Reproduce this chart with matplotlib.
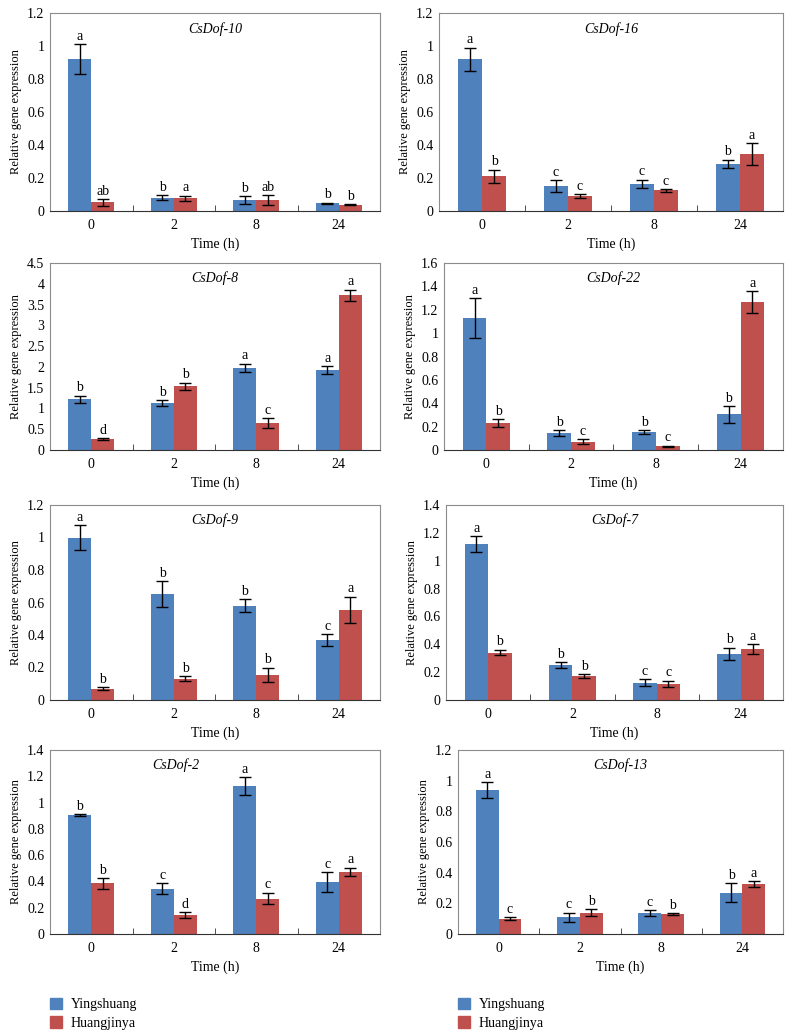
import matplotlib
matplotlib.use('Agg')
import matplotlib.pyplot as plt
from matplotlib.patches import Patch
from matplotlib.ticker import FuncFormatter, FixedLocator
import numpy as np

plt.rcParams['font.family'] = ['Liberation Serif', 'DejaVu Serif']

times = ['0', '2', '8', '24']
blue_c = '#4F81BD'
red_c = '#C0504D'

# panel data: name, ymax, ystep
genes = ['CsDof-10', 'CsDof-16', 'CsDof-8', 'CsDof-22',
         'CsDof-9', 'CsDof-7', 'CsDof-2', 'CsDof-13']
ymax = [1.2, 1.2, 4.5, 1.6, 1.2, 1.4, 1.4, 1.2]
ystep = [0.2, 0.2, 0.5, 0.2, 0.2, 0.2, 0.2, 0.2]

ying_10 = [0.92, 0.08, 0.065, 0.047]
ying_10_err = [0.09, 0.015, 0.025, 0.004]
huang_10 = [0.052, 0.078, 0.065, 0.038]
huang_10_err = [0.02, 0.015, 0.03, 0.004]

ying_16 = [0.92, 0.15, 0.165, 0.285]
ying_16_err = [0.07, 0.035, 0.025, 0.025]
huang_16 = [0.21, 0.09, 0.125, 0.345]
huang_16_err = [0.04, 0.012, 0.008, 0.065]

ying_8 = [1.22, 1.13, 1.98, 1.92]
ying_8_err = [0.09, 0.07, 0.1, 0.09]
huang_8 = [0.27, 1.53, 0.65, 3.72]
huang_8_err = [0.02, 0.09, 0.11, 0.14]

ying_22 = [1.13, 0.145, 0.155, 0.305]
ying_22_err = [0.17, 0.025, 0.015, 0.07]
huang_22 = [0.23, 0.07, 0.03, 1.265]
huang_22_err = [0.035, 0.02, 0.008, 0.095]

ying_9 = [1.0, 0.65, 0.58, 0.37]
ying_9_err = [0.075, 0.08, 0.04, 0.035]
huang_9 = [0.07, 0.13, 0.155, 0.555]
huang_9_err = [0.008, 0.015, 0.045, 0.08]

ying_7 = [1.12, 0.25, 0.125, 0.33]
ying_7_err = [0.055, 0.02, 0.025, 0.045]
huang_7 = [0.34, 0.17, 0.115, 0.365]
huang_7_err = [0.02, 0.015, 0.025, 0.035]

ying_2 = [0.905, 0.345, 1.125, 0.395]
ying_2_err = [0.005, 0.04, 0.07, 0.075]
huang_2 = [0.385, 0.145, 0.27, 0.475]
huang_2_err = [0.04, 0.02, 0.045, 0.03]

ying_13 = [0.94, 0.11, 0.135, 0.27]
ying_13_err = [0.05, 0.03, 0.02, 0.06]
huang_13 = [0.10, 0.14, 0.13, 0.325]
huang_13_err = [0.01, 0.02, 0.007, 0.02]

ying_letters = [['a', 'b', 'b', 'b'], ['a', 'c', 'c', 'b'], ['b', 'b', 'a', 'a'], ['a', 'b', 'b', 'b'],
                ['a', 'b', 'b', 'c'], ['a', 'b', 'c', 'b'], ['b', 'c', 'a', 'c'], ['a', 'c', 'c', 'b']]
huang_letters = [['ab', 'a', 'ab', 'b'], ['b', 'c', 'c', 'a'], ['d', 'b', 'c', 'a'], ['b', 'c', 'c', 'a'],
                 ['b', 'b', 'b', 'a'], ['b', 'b', 'c', 'a'], ['b', 'd', 'c', 'a'], ['c', 'b', 'b', 'a']]

ying = [ying_10, ying_16, ying_8, ying_22, ying_9, ying_7, ying_2, ying_13]
ying_err = [ying_10_err, ying_16_err, ying_8_err, ying_22_err, ying_9_err, ying_7_err, ying_2_err, ying_13_err]
huang = [huang_10, huang_16, huang_8, huang_22, huang_9, huang_7, huang_2, huang_13]
huang_err = [huang_10_err, huang_16_err, huang_8_err, huang_22_err, huang_9_err, huang_7_err, huang_2_err, huang_13_err]

W, H = 792, 1035
fig = plt.figure(figsize=(W / 100, H / 100), dpi=100)

# pixel boxes (left, top, right, bottom)
boxes = [(50, 13, 380, 211), (439, 13, 783, 211),
         (50, 263, 380, 450), (444, 263, 783, 450),
         (50, 505, 380, 700), (446, 505, 783, 700),
         (50, 750, 380, 934), (458, 750, 783, 934)]
title_x = [0.5, 0.5, 0.5, 0.5, 0.5, 0.5, 0.38, 0.5]

x = np.arange(4)
bw = 0.28
for k in range(8):
    l, t, r, b = boxes[k]
    ax = fig.add_axes([l / W, 1 - b / H, (r - l) / W, (b - t) / H])
    ax.bar(x - bw / 2, ying[k], bw, color=blue_c, yerr=ying_err[k], capsize=4,
           error_kw=dict(elinewidth=1, capthick=1, ecolor='black'))
    ax.bar(x + bw / 2, huang[k], bw, color=red_c, yerr=huang_err[k], capsize=4,
           error_kw=dict(elinewidth=1, capthick=1, ecolor='black'))
    for i in range(4):
        ax.annotate(ying_letters[k][i], (x[i] - bw / 2, ying[k][i] + ying_err[k][i]),
                    xytext=(0, 1), textcoords='offset points', ha='center', va='bottom', fontsize=10)
        ax.annotate(huang_letters[k][i], (x[i] + bw / 2, huang[k][i] + huang_err[k][i]),
                    xytext=(0, 1), textcoords='offset points', ha='center', va='bottom', fontsize=10)
    ax.set_xlim(-0.5, 3.5)
    ax.set_ylim(0, ymax[k])
    ax.set_yticks(np.arange(0, ymax[k] + 1e-9, ystep[k]))
    ax.yaxis.set_major_formatter(FuncFormatter(lambda v, p: '%g' % round(v, 2)))
    ax.set_xticks(x)
    ax.set_xticklabels(times)
    ax.xaxis.set_minor_locator(FixedLocator([0.5, 1.5, 2.5]))
    ax.tick_params(axis='x', which='major', length=0, labelsize=10, pad=6)
    ax.tick_params(axis='x', which='minor', length=4, direction='in', color='#333333')
    ax.tick_params(axis='y', length=0, labelsize=10, pad=4)
    for s in ['top', 'right', 'left']:
        ax.spines[s].set_color('#8c8c8c')
        ax.spines[s].set_linewidth(0.8)
    ax.spines['bottom'].set_color('#333333')
    ax.spines['bottom'].set_linewidth(0.8)
    ax.set_xlabel('Time (h)', fontsize=10, labelpad=4)
    ax.set_ylabel('Relative gene expression', fontsize=9)
    ax.text(title_x[k], 0.92, genes[k], transform=ax.transAxes, ha='center', va='center',
            fontsize=10, style='italic')

handles = [Patch(color=blue_c, label='Yingshuang'), Patch(color=red_c, label='Huangjinya')]
for lx in [44, 452]:
    fig.legend(handles=handles, loc='upper left', bbox_to_anchor=(lx / W, 1 - 992 / H),
               frameon=False, fontsize=10, handlelength=0.9, handleheight=0.9,
               handletextpad=0.6, labelspacing=0.35, borderaxespad=0)

fig.savefig('out.png', dpi=100)
